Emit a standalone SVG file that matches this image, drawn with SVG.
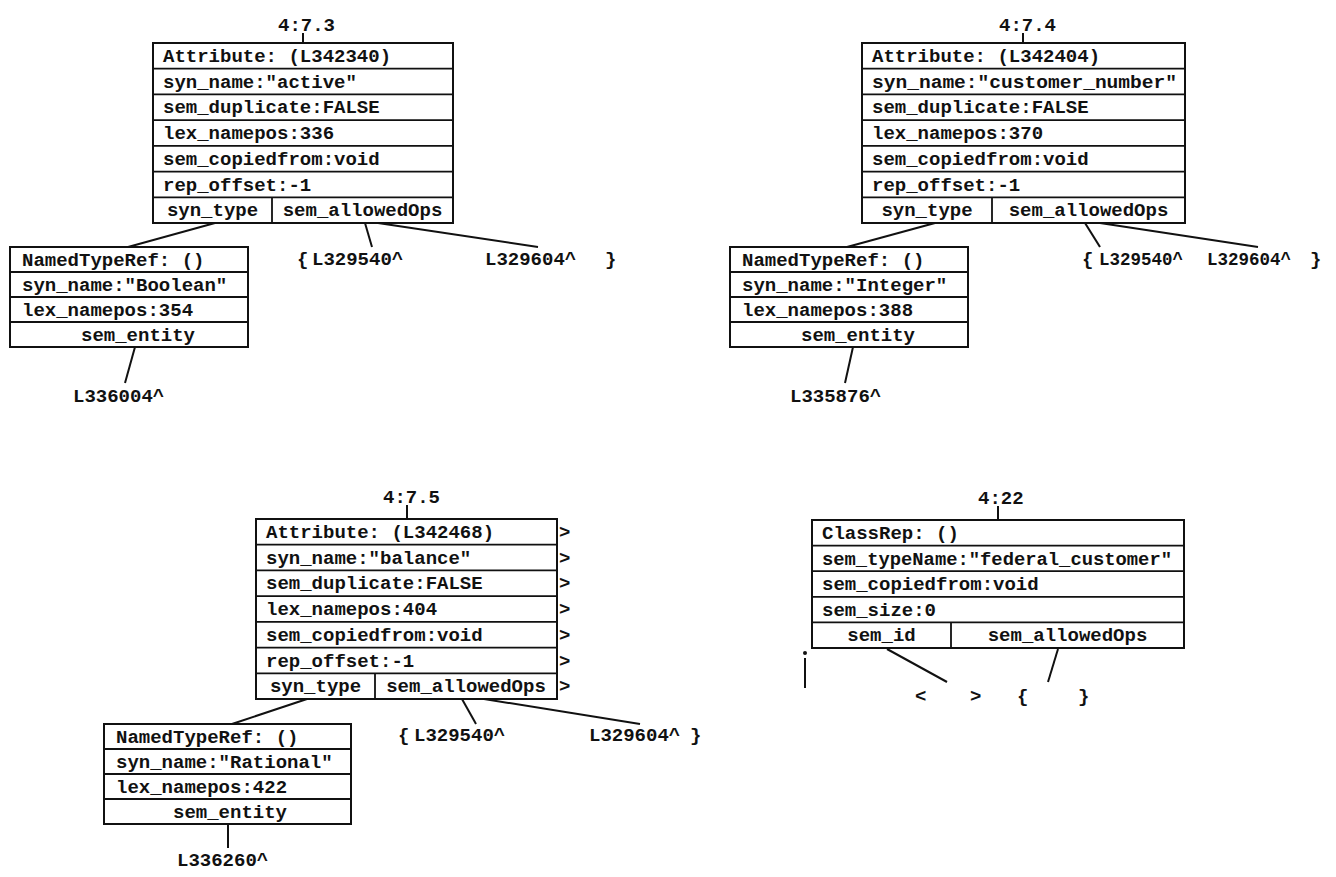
<svg xmlns="http://www.w3.org/2000/svg" width="1336" height="877" viewBox="0 0 1336 877">
<style>
.t{font-family:"Liberation Mono","Courier New",monospace;font-weight:bold;font-size:19px;fill:#111}
.s{font-size:17.5px}
.c{text-anchor:middle}
.box{fill:none;stroke:#111;stroke-width:2}
.sep{fill:none;stroke:#111;stroke-width:1.8}
.conn line{stroke:#111;stroke-width:2}
</style>
<rect width="1336" height="877" fill="#fff"/>

<g id="label-4-7-3">
<text class="t" x="278" y="31">4:7.3</text>
</g>
<g id="attr-L342340">
<rect class="box" x="153" y="43" width="300" height="180"/>
<path class="sep" d="M153 68.7H453M153 94.4H453M153 120.1H453M153 145.9H453M153 171.6H453M153 197.3H453M272 197.3V223"/>
<text class="t" x="163" y="62">Attribute: (L342340)</text>
<text class="t" x="163" y="87.7">syn_name:"active"</text>
<text class="t" x="163" y="113.4">sem_duplicate:FALSE</text>
<text class="t" x="163" y="139.1">lex_namepos:336</text>
<text class="t" x="163" y="164.9">sem_copiedfrom:void</text>
<text class="t" x="163" y="190.6">rep_offset:-1</text>
<text class="t c" x="212.5" y="216.3">syn_type</text>
<text class="t c" x="362.5" y="216.3">sem_allowedOps</text>
</g>
<g id="ntr-boolean">
<rect class="box" x="10" y="247" width="238" height="100"/>
<path class="sep" d="M10 272H248M10 297H248M10 322H248"/>
<text class="t" x="22" y="265.5">NamedTypeRef: ()</text>
<text class="t" x="22" y="290.5">syn_name:"Boolean"</text>
<text class="t" x="22" y="315.5">lex_namepos:354</text>
<text class="t c" x="138" y="340.5">sem_entity</text>
</g>
<g id="ops-1">
<text class="t" x="297" y="265">{</text>
<text class="t" x="312" y="265">L329540^</text>
<text class="t" x="485" y="265">L329604^</text>
<text class="t" x="605" y="265">}</text>
</g>
<g id="ref-L336004">
<text class="t" x="73" y="402">L336004^</text>
</g>

<g id="label-4-7-4">
<text class="t" x="999" y="31">4:7.4</text>
</g>
<g id="attr-L342404">
<rect class="box" x="862" y="43" width="323" height="180"/>
<path class="sep" d="M862 68.7H1185M862 94.4H1185M862 120.1H1185M862 145.9H1185M862 171.6H1185M862 197.3H1185M992 197.3V223"/>
<text class="t" x="872" y="62">Attribute: (L342404)</text>
<text class="t" x="872" y="87.7" textLength="305" lengthAdjust="spacingAndGlyphs">syn_name:"customer_number"</text>
<text class="t" x="872" y="113.4">sem_duplicate:FALSE</text>
<text class="t" x="872" y="139.1">lex_namepos:370</text>
<text class="t" x="872" y="164.9">sem_copiedfrom:void</text>
<text class="t" x="872" y="190.6">rep_offset:-1</text>
<text class="t c" x="927" y="216.3">syn_type</text>
<text class="t c" x="1088.5" y="216.3">sem_allowedOps</text>
</g>
<g id="ntr-integer">
<rect class="box" x="730" y="247" width="238" height="100"/>
<path class="sep" d="M730 272H968M730 297H968M730 322H968"/>
<text class="t" x="742" y="265.5">NamedTypeRef: ()</text>
<text class="t" x="742" y="290.5">syn_name:"Integer"</text>
<text class="t" x="742" y="315.5">lex_namepos:388</text>
<text class="t c" x="858" y="340.5">sem_entity</text>
</g>
<g id="ops-2">
<text class="t" x="1082" y="265">{</text>
<text class="t s" x="1099" y="265">L329540^</text>
<text class="t s" x="1207" y="265">L329604^</text>
<text class="t" x="1310" y="265">}</text>
</g>
<g id="ref-L335876">
<text class="t" x="790" y="402">L335876^</text>
</g>

<g id="label-4-7-5">
<text class="t" x="383" y="503">4:7.5</text>
</g>
<g id="attr-L342468">
<rect class="box" x="256" y="519" width="301" height="180"/>
<path class="sep" d="M256 544.7H557M256 570.4H557M256 596.1H557M256 621.9H557M256 647.6H557M256 673.3H557M375 673.3V699"/>
<text class="t" x="266" y="538">Attribute: (L342468)</text>
<text class="t" x="266" y="563.7">syn_name:"balance"</text>
<text class="t" x="266" y="589.4">sem_duplicate:FALSE</text>
<text class="t" x="266" y="615.1">lex_namepos:404</text>
<text class="t" x="266" y="640.9">sem_copiedfrom:void</text>
<text class="t" x="266" y="666.6">rep_offset:-1</text>
<text class="t c" x="315.5" y="692.3">syn_type</text>
<text class="t c" x="466" y="692.3">sem_allowedOps</text>
<text class="t" x="559" y="538">&gt;</text>
<text class="t" x="559" y="563.7">&gt;</text>
<text class="t" x="559" y="589.4">&gt;</text>
<text class="t" x="559" y="615.1">&gt;</text>
<text class="t" x="559" y="640.9">&gt;</text>
<text class="t" x="559" y="666.6">&gt;</text>
<text class="t" x="559" y="692.3">&gt;</text>
</g>
<g id="ntr-rational">
<rect class="box" x="104" y="724" width="247" height="100"/>
<path class="sep" d="M104 749H351M104 774H351M104 799H351"/>
<text class="t" x="116" y="742.5">NamedTypeRef: ()</text>
<text class="t" x="116" y="767.5">syn_name:"Rational"</text>
<text class="t" x="116" y="792.5">lex_namepos:422</text>
<text class="t c" x="230" y="817.5">sem_entity</text>
</g>
<g id="ops-3">
<text class="t" x="398" y="741">{</text>
<text class="t" x="414" y="741">L329540^</text>
<text class="t" x="589" y="741">L329604^</text>
<text class="t" x="690" y="741">}</text>
</g>
<g id="ref-L336260">
<text class="t" x="177" y="866">L336260^</text>
</g>

<g id="label-4-22">
<text class="t" x="978" y="504">4:22</text>
</g>
<g id="classrep">
<rect class="box" x="812" y="520" width="372" height="128"/>
<path class="sep" d="M812 545.6H1184M812 571.2H1184M812 596.8H1184M812 622.4H1184M951 622.4V648"/>
<text class="t" x="822" y="539">ClassRep: ()</text>
<text class="t" x="822" y="564.6" textLength="350" lengthAdjust="spacingAndGlyphs">sem_typeName:"federal_customer"</text>
<text class="t" x="822" y="590.2">sem_copiedfrom:void</text>
<text class="t" x="822" y="615.8">sem_size:0</text>
<text class="t c" x="881.5" y="641.4">sem_id</text>
<text class="t c" x="1067.5" y="641.4">sem_allowedOps</text>
</g>
<g id="classrep-values">
<text class="t" x="915" y="702">&lt;</text>
<text class="t" x="970" y="702">&gt;</text>
<text class="t" x="1017" y="702">{</text>
<text class="t" x="1078" y="702">}</text>
</g>
<g id="mark">
<circle cx="805" cy="653" r="2" fill="#111"/>
<line x1="805" y1="658" x2="805" y2="688" stroke="#111" stroke-width="2"/>
</g>

<g id="connectors" class="conn">
<line x1="303" y1="33" x2="303" y2="43"/>
<line x1="1023" y1="33" x2="1023" y2="43"/>
<line x1="407" y1="505" x2="407" y2="519"/>
<line x1="998" y1="506" x2="998" y2="520"/>
<line x1="215" y1="223" x2="128" y2="247"/>
<line x1="365" y1="223" x2="372" y2="247"/>
<line x1="378" y1="223" x2="538" y2="247"/>
<line x1="135" y1="347" x2="125" y2="383"/>
<line x1="935" y1="223" x2="847" y2="247"/>
<line x1="1085" y1="223" x2="1100" y2="247"/>
<line x1="1100" y1="223" x2="1258" y2="247"/>
<line x1="853" y1="347" x2="845" y2="383"/>
<line x1="307" y1="699" x2="232" y2="724"/>
<line x1="462" y1="699" x2="476" y2="724"/>
<line x1="484" y1="699" x2="640" y2="724"/>
<line x1="228" y1="824" x2="228" y2="848"/>
<line x1="887" y1="649" x2="947" y2="682"/>
<line x1="1058" y1="649" x2="1048" y2="682"/>
</g>
</svg>
